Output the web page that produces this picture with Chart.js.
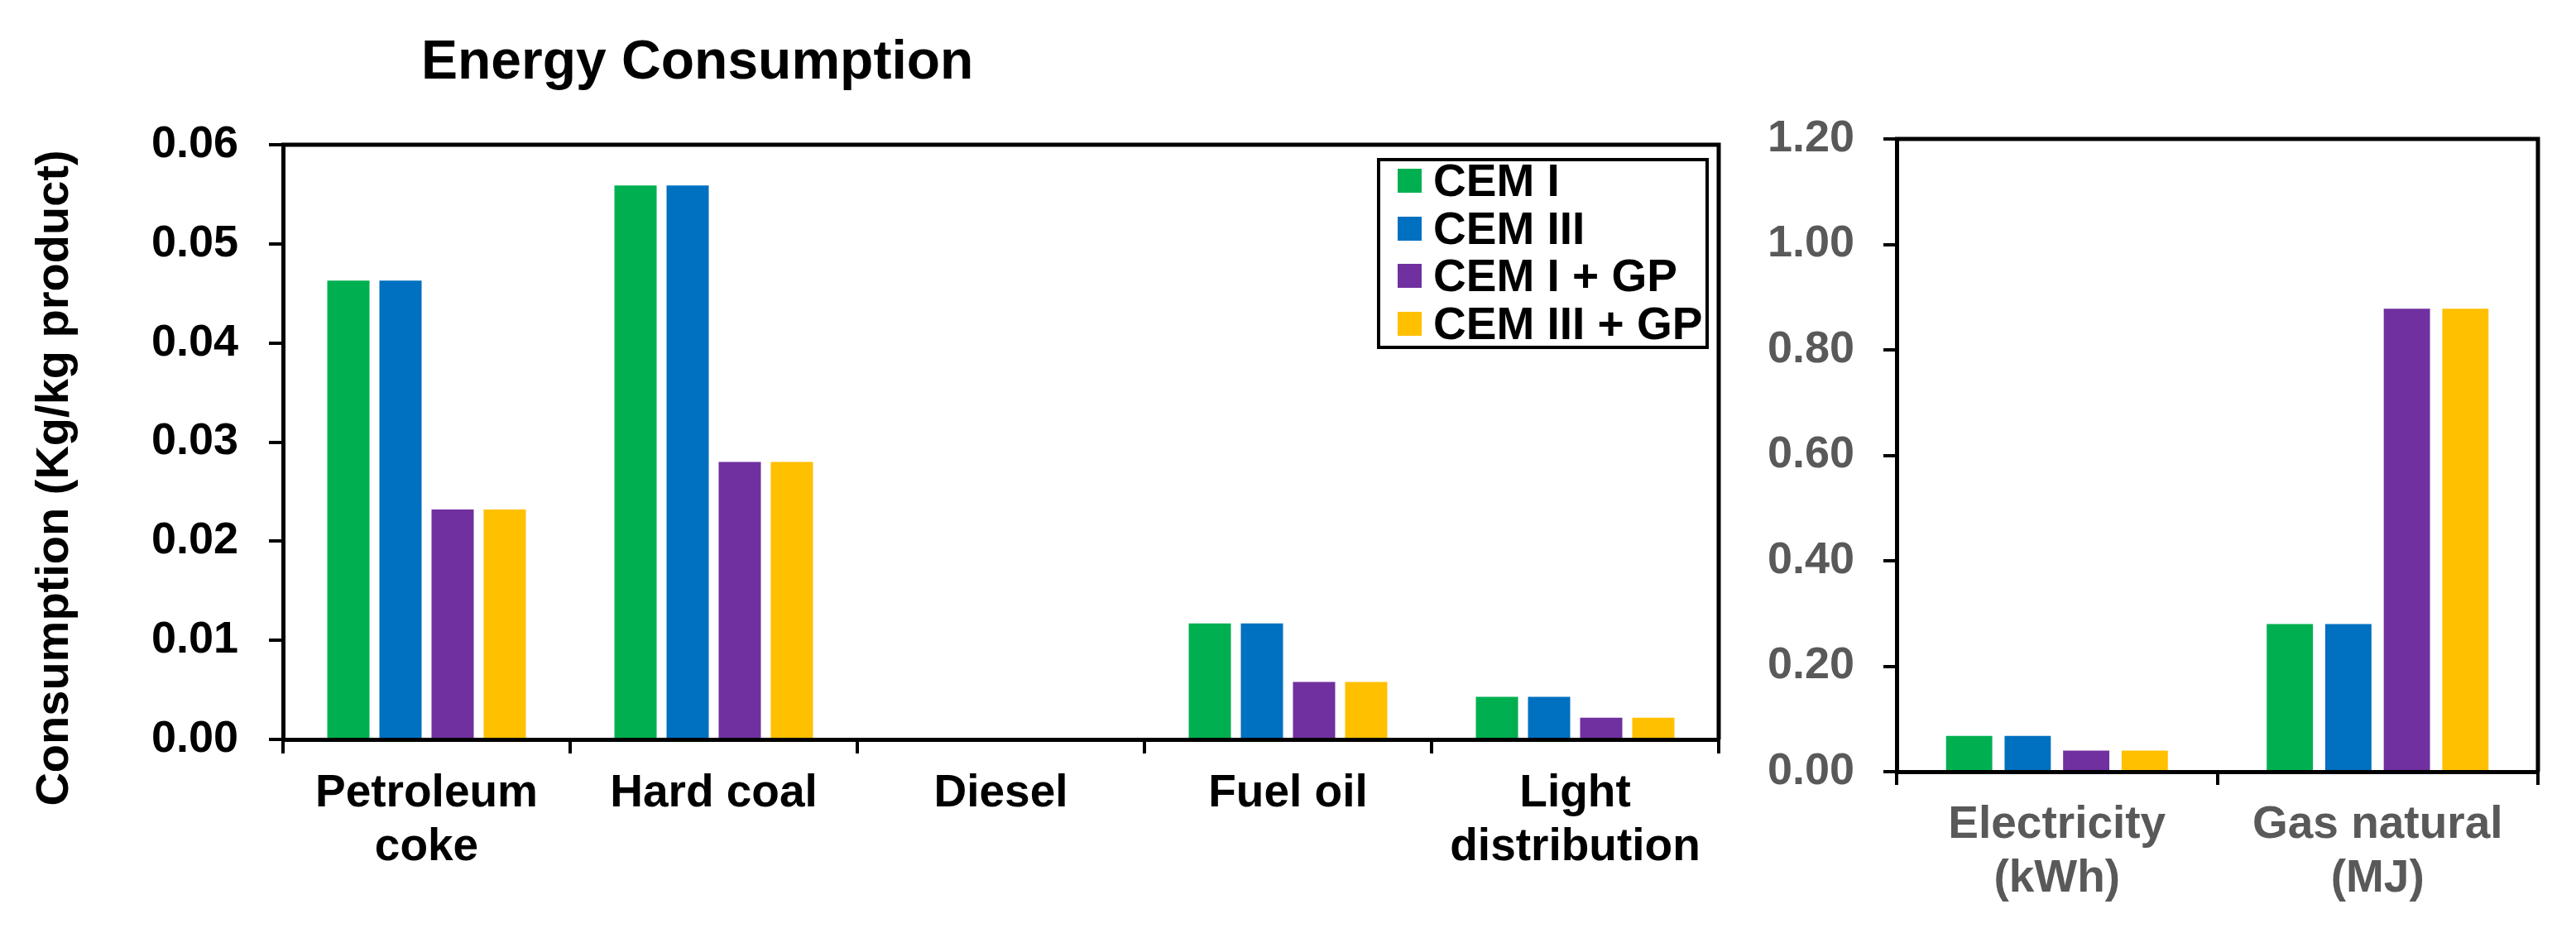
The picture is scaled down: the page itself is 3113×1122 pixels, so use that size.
<!DOCTYPE html>
<html>
<head>
<meta charset="utf-8">
<script src="https://cdn.jsdelivr.net/npm/chart.js@4.4.1/dist/chart.umd.min.js"></script>
<style>
  body { margin: 0; background: #fff; overflow: hidden; font-family: 'Liberation Sans', Arial, sans-serif; font-weight: bold; }
  canvas { position: absolute; top: 0; }
  #title { position: absolute; left: 509px; top: 39px; font-size: 66px; line-height: 66px; color: #000; white-space: nowrap; }
  #ytitle { position: absolute; left: -387px; top: 550px; width: 900px; text-align: center; font-size: 56px; line-height: 56px;
            transform: rotate(-90deg); transform-origin: 50% 50%; white-space: nowrap; }
  #legend { position: absolute; left: 1664px; top: 191px; width: 401px; height: 231px; box-sizing: border-box; border: 4px solid #000; }
  #legend .row { position: absolute; left: 0; height: 57px; line-height: 57px; font-size: 55px; white-space: nowrap; }
  #legend .sw { position: absolute; left: 21px; top: 14px; width: 29px; height: 29px; }
  #legend .tx { position: absolute; left: 64px; top: 0; }
</style>
</head>
<body>
<div id="title">Energy Consumption</div>
<div id="ytitle">Consumption (Kg/kg product)</div>
<canvas id="fuels" width="2110" height="1122" style="left:0"></canvas>
<canvas id="energy" width="1003" height="1122" style="left:2110px"></canvas>
<div id="legend"></div>
<script>
'use strict';
// data
var cementTypes = ['CEM I', 'CEM III', 'CEM I + GP', 'CEM III + GP'];
var cementColors = ['#00B050', '#0070C0', '#7030A0', '#FFC000'];

var fuelLabels = [['Petroleum', 'coke'], 'Hard coal', 'Diesel', 'Fuel oil', ['Light', 'distribution']];
var fuelCemI = [0.0463, 0.0559, 0, 0.0117, 0.0043];
var fuelCemIII = [0.0463, 0.0559, 0, 0.0117, 0.0043];
var fuelCemIGP = [0.0232, 0.0280, 0, 0.0058, 0.0022];
var fuelCemIIIGP = [0.0232, 0.0280, 0, 0.0058, 0.0022];

var energyLabels = [['Electricity', '(kWh)'], ['Gas natural', '(MJ)']];
var energyCemI = [0.068, 0.280];
var energyCemIII = [0.068, 0.280];
var energyCemIGP = [0.040, 0.878];
var energyCemIIIGP = [0.040, 0.878];

Chart.defaults.font.family = "'Liberation Sans', Arial, sans-serif";
Chart.defaults.font.weight = 'bold';

// top and right edges of the plot box
var framePlugin = {
    id: 'frame',
    afterDatasetsDraw: function (chart) {
        var a = chart.chartArea, ctx = chart.ctx;
        ctx.save();
        ctx.strokeStyle = '#000';
        ctx.lineWidth = 5;
        ctx.beginPath();
        ctx.moveTo(a.left - 2, a.top);
        ctx.lineTo(a.right, a.top);
        ctx.lineTo(a.right, a.bottom);
        ctx.stroke();
        ctx.restore();
    }
};

function makeSets(series, catPct, barPct) {
    return series.map(function (vals, i) {
        return {
            label: cementTypes[i],
            data: vals,
            backgroundColor: cementColors[i],
            borderWidth: 0,
            categoryPercentage: catPct,
            barPercentage: barPct
        };
    });
}

function barChart(id, labels, sets, opt) {
    return new Chart(document.getElementById(id), {
        type: 'bar',
        data: { labels: labels, datasets: sets },
        plugins: [framePlugin],
        options: {
            responsive: false,
            animation: false,
            devicePixelRatio: 1,
            layout: { padding: { left: 0, top: opt.top, right: opt.right, bottom: 0 } },
            plugins: { legend: { display: false }, tooltip: { enabled: false } },
            scales: {
                x: {
                    grid: { drawOnChartArea: false, color: '#000', lineWidth: 4, tickLength: opt.tick },
                    border: { color: '#000', width: 5 },
                    ticks: { color: opt.textColor, font: { size: 55, lineHeight: 1.18 }, padding: 16, maxRotation: 0, autoSkip: false },
                    afterFit: function (s) { s.height = 1122 - opt.bottom; }
                },
                y: {
                    min: 0, max: opt.max,
                    grid: { drawOnChartArea: false, color: '#000', lineWidth: 4, tickLength: opt.tick },
                    border: { color: '#000', width: 5 },
                    ticks: {
                        stepSize: opt.step, color: opt.textColor, font: { size: 54 }, padding: opt.pad,
                        callback: function (v) { return v.toFixed(2); }
                    },
                    afterFit: function (s) { s.width = opt.left; }
                }
            }
        }
    });
}

barChart('fuels', fuelLabels,
    makeSets([fuelCemI, fuelCemIII, fuelCemIGP, fuelCemIIIGP], 0.726, 0.81),
    { top: 175, right: 33, bottom: 894, left: 342, max: 0.06, step: 0.01, tick: 17, pad: 37, textColor: '#000' });

barChart('energy', energyLabels,
    makeSets([energyCemI, energyCemIII, energyCemIGP, energyCemIIIGP], 0.73, 0.79),
    { top: 168, right: 46, bottom: 933, left: 182, max: 1.2, step: 0.2, tick: 16, pad: 35, textColor: '#595959' });

// legend box inside the left plot
var legend = document.getElementById('legend');
cementTypes.forEach(function (name, i) {
    var row = document.createElement('div');
    row.className = 'row';
    row.style.top = (-5 + 57.5 * i) + 'px';
    row.innerHTML = '<span class="sw" style="background:' + cementColors[i] + '"></span><span class="tx">' + name + '</span>';
    legend.appendChild(row);
});
</script>
</body>
</html>
